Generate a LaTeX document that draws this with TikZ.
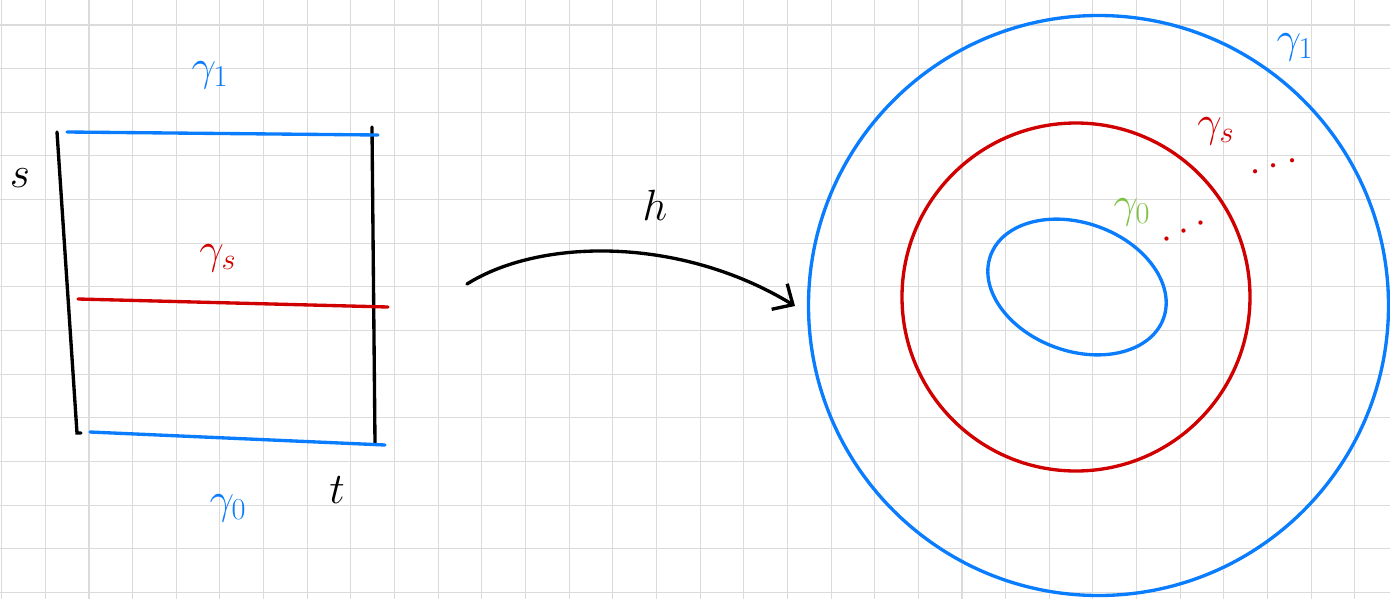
\documentclass[tikz,border=0pt]{standalone}
\usepackage{tikz}
\usetikzlibrary{arrows.meta}

\definecolor{penblue}{RGB}{10,125,255}
\definecolor{penred}{RGB}{208,0,0}
\definecolor{pengreen}{RGB}{125,194,66}

\begin{document}
\begin{tikzpicture}[x=0.02cm, y=-0.02cm,
      every node/.style={font=\fontsize{25}{29}\selectfont, inner sep=1pt},
      gridline/.style={draw=black!14, line width=0.6pt},
      pen/.style={line width=1.9pt, line cap=round},
      side/.style={pen, draw=black},
      loopblue/.style={pen, draw=penblue},
      loopred/.style={pen, draw=penred},
      dotsnode/.style={text=penred, inner sep=0pt},
      maparrow/.style={pen, draw=black, -{Straight Barb[length=9pt, width=17pt, line width=1.9pt]}},
  ]
    \useasboundingbox (0,0) rectangle (1390,599);

    %% --- squared paper ---
    \foreach \i in {0,...,31}
      \draw[gridline] ({1.7+43.65*\i},0) -- ({1.7+43.65*\i},599);
    \foreach \j in {0,...,13}
      \draw[gridline] (0,{25+43.65*\j}) -- (1390,{25+43.65*\j});

    %% --- the square [0,1] x [0,1] ---
    \draw[side] (57,132) -- (77,433) -- (81,433);
    \draw[side] (372,127) -- (375,443);
    \draw[loopblue] (67,132) -- (378,135);
    \draw[loopred]  (78,299) -- (388,307);
    \draw[loopblue] (90,432) -- (385,445);

    \node[text=penblue] (gone)  at (210,75)  {$\gamma_1$};
    \node               (s)     at (20,178)  {$s$};
    \node[text=penred]  (gs)    at (218,258) {$\gamma_s$};
    \node[text=penblue] (gzero) at (228,508) {$\gamma_0$};
    \node               (t)     at (337,490) {$t$};

    %% --- the map ---
    \coordinate (hstart) at (467,284);
    \coordinate (hend)   at (795,306);
    \draw[maparrow] (hstart) .. controls (540,238) and (680,236) .. (hend);
    \node (h) at (655,205) {$h$};

    %% --- image in the plane ---
    \draw[loopblue] (1098.5,305.5) circle (290);
    \draw[loopred]  (1076,297) circle (174);
    \draw[loopblue] (1077,287) ellipse [x radius=92, y radius=64, rotate=-20];

    \node[text=penblue]  (hgone)  at (1295,47)  {$\gamma_1$};
    \node[text=penred]   (hgs)    at (1216,131) {$\gamma_s$};
    \node[dotsnode, rotate=17] (hgsdots) at (1274,166) {$\dots$};
    \node[text=pengreen] (hgzero) at (1132,212) {$\gamma_0$};
    \node[dotsnode, rotate=25] (hgzdots) at (1184,231) {$\dots$};
  \end{tikzpicture}
\end{document}
